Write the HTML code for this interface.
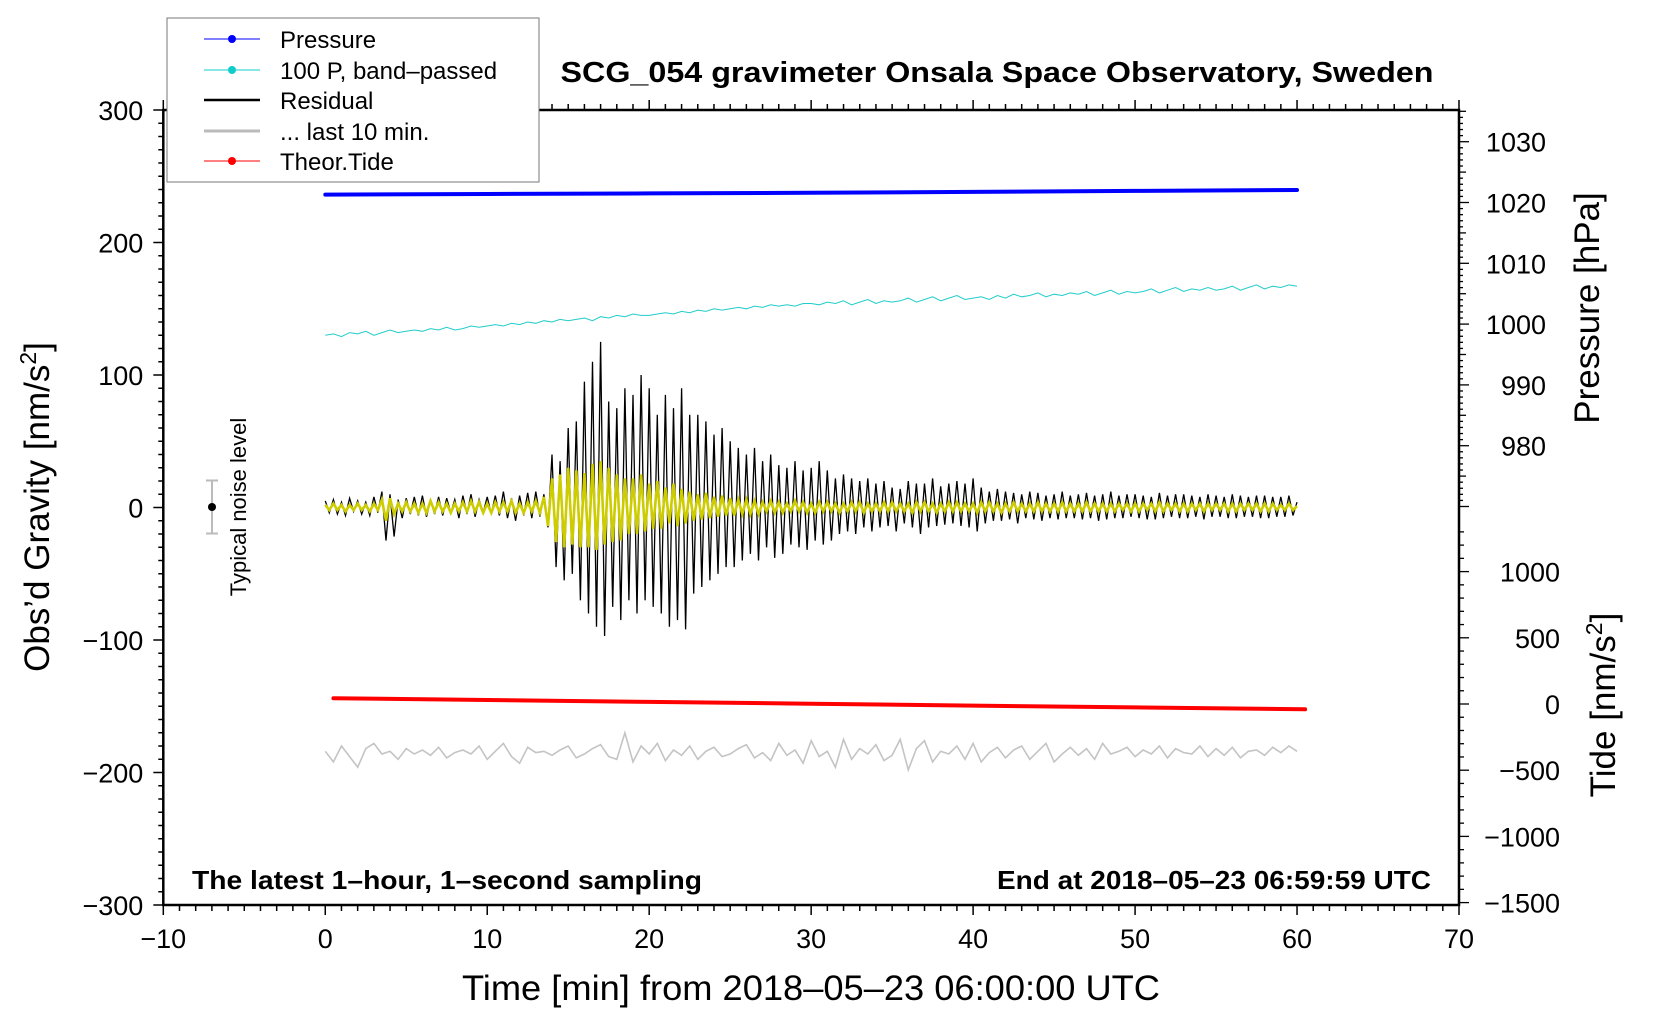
<!DOCTYPE html>
<html><head><meta charset="utf-8"><style>
html,body{margin:0;padding:0;background:#fff;}
svg{display:block;font-family:"Liberation Sans",sans-serif;}
</style></head><body>
<svg id="chart" width="1660" height="1020" viewBox="0 0 1660 1020" xmlns="http://www.w3.org/2000/svg">
<rect x="0" y="0" width="1660" height="1020" fill="#fff"/>
<g id="series"></g>
<g id="axes"></g>
<text x="997" y="82" text-anchor="middle" font-size="29" font-weight="bold" textLength="873" lengthAdjust="spacingAndGlyphs">SCG_054 gravimeter Onsala Space Observatory, Sweden</text>
<text x="192" y="889" font-size="26" font-weight="bold" textLength="510" lengthAdjust="spacingAndGlyphs">The latest 1–hour, 1–second sampling</text>
<text x="1431" y="889" text-anchor="end" font-size="26" font-weight="bold" textLength="434" lengthAdjust="spacingAndGlyphs">End at 2018–05–23 06:59:59 UTC</text>
<text x="811" y="1000" text-anchor="middle" font-size="35" textLength="698" lengthAdjust="spacingAndGlyphs">Time [min] from 2018–05–23 06:00:00 UTC</text>
<text transform="translate(49,507) rotate(-90)" text-anchor="middle" font-size="35">Obs’d Gravity [nm/s<tspan font-size="23" dy="-13">2</tspan><tspan dy="13">]</tspan></text>
<text transform="translate(1599,308) rotate(-90)" text-anchor="middle" font-size="35">Pressure [hPa]</text>
<text transform="translate(1615,705) rotate(-90)" text-anchor="middle" font-size="35">Tide [nm/s<tspan font-size="23" dy="-13">2</tspan><tspan dy="13">]</tspan></text>
<g>
<line x1="212" y1="480.5" x2="212" y2="533.5" stroke="#bbb" stroke-width="2"/>
<line x1="206" y1="480.5" x2="218" y2="480.5" stroke="#bbb" stroke-width="2"/>
<line x1="206" y1="533.5" x2="218" y2="533.5" stroke="#bbb" stroke-width="2"/>
<circle cx="212" cy="507" r="4" fill="#000"/>
<text transform="translate(246,507) rotate(-90)" text-anchor="middle" font-size="22">Typical noise level</text>
</g>
<g>
<rect x="167" y="18" width="372" height="164" fill="#fff" stroke="#777" stroke-width="1"/>
<line x1="204" y1="39" x2="260" y2="39" stroke="#00f" stroke-width="1"/><circle cx="232" cy="39" r="4" fill="#00f"/>
<text x="280" y="48" font-size="24">Pressure</text>
<line x1="204" y1="70" x2="260" y2="70" stroke="#1cc" stroke-width="1"/><circle cx="232" cy="70" r="4" fill="#1cc"/>
<text x="280" y="79" font-size="24">100 P, band–passed</text>
<line x1="204" y1="100" x2="260" y2="100" stroke="#000" stroke-width="2.5"/>
<text x="280" y="109" font-size="24">Residual</text>
<line x1="204" y1="131" x2="260" y2="131" stroke="#bbb" stroke-width="3"/>
<text x="280" y="140" font-size="24">... last 10 min.</text>
<line x1="204" y1="161" x2="260" y2="161" stroke="#f00" stroke-width="1"/><circle cx="232" cy="161" r="4" fill="#f00"/>
<text x="280" y="170" font-size="24">Theor.Tide</text>
</g>
</svg>
<script>
const xTicks = [-10,0,10,20,30,40,50,60,70];
const yTicks = [300,200,100,0,-100,-200,-300];
const pTicks = [1030,1020,1010,1000,990,980];
const tideTicks = [1000,500,0,-500,-1000,-1500];
const presT = [0,10,20,30,40,50,60];
const presV = [1021.3,1021.4,1021.5,1021.6,1021.75,1021.9,1022.05];
const tideT = [0.5,10,20,30,40,50,60.5];
const tideV = [44,30,16,2,-12,-26,-40];
const cyanV = [130,131,129,132,131,133,130,132,134,132,133,
134,133,135,134,136,134,135,137,136,137,
138,137,139,138,140,139,141,140,142,141,
142,143,141,144,143,145,144,146,145,145,
146,147,146,148,147,149,148,150,149,150,
151,150,152,151,153,152,153,152,154,154,
153,155,154,156,153,155,157,154,156,155,
156,158,155,157,159,156,158,160,157,158,
159,157,160,158,161,159,160,162,159,161,
160,162,161,163,160,162,164,161,163,162,
163,165,162,164,166,163,165,164,166,164,
165,167,164,166,168,165,167,166,168,167];
const residV = [5,-4,6,-5, 4,-6,7,-3, 5,-5,4,-6, 8,-4,12,-25, 10,-22,6,-8,
7,-5,8,-6, 9,-7,6,-5, 8,-6,7,-4, 6,-8,9,-5, 10,-7,6,-4,
8,-5,9,-6, 12,-8,7,-10, 9,-6,11,-8, 12,-7,10,-15, 40,-45,35,-55,
60,-50,65,-70, 95,-80,110,-90, 125,-97,80,-75, 75,-85,90,-70, 85,-80,100,-70,
90,-75,70,-80, 85,-90,75,-85, 90,-92,70,-65, 70,-60,65,-55, 55,-50,60,-45,
50,-45,45,-40, 40,-35,45,-40, 35,-30,40,-38, 32,-35,30,-28, 35,-30,28,-32,
30,-25,35,-28, 28,-25,22,-20, 25,-18,22,-20, 20,-15,22,-18, 18,-15,20,-14,
15,-18,14,-12, 20,-15,18,-20, 18,-15,22,-14, 16,-13,18,-12, 20,-14,18,-15,
22,-18,15,-12, 12,-10,14,-10, 12,-9,11,-12, 10,-8,12,-9, 11,-10,9,-8,
10,-9,12,-8, 9,-8,10,-9, 11,-8,9,-10, 10,-9,12,-8, 9,-8,10,-7,
10,-8,9,-9, 8,-9,11,-8, 9,-7,10,-8, 10,-8,9,-7, 8,-9,10,-7,
9,-7,8,-8, 10,-8,9,-7, 8,-7,9,-8, 9,-8,8,-7, 8,-7,9,-6, 4];
const yellowV = [2,-2,3,-2, 2,-3,2,-2, 3,-2,2,-3, 3,-2,6,-10, 7,-5,3,-3,
4,-3,3,-4, 3,-4,5,-3, 4,-3,3,-4, 3,-3,4,-3, 5,-3,4,-4,
3,-4,4,-3, 4,-3,5,-4, 3,-4,4,-3, 5,-4,8,-14, 22,-26,25,-30,
30,-28,28,-30, 26,-30,33,-32, 35,-28,30,-26, 25,-25,22,-20, 22,-20,25,-18,
18,-16,20,-16, 15,-12,18,-14, 14,-12,12,-10, 10,-9,11,-8, 8,-7,9,-6,
7,-6,6,-5, 6,-5,5,-5, 4,-3,5,-4, 4,-4,3,-3, 5,-3,4,-4,
3,-4,4,-3, 4,-3,3,-4, 3,-3,4,-3, 4,-4,3,-3, 3,-3,4,-3,
4,-3,3,-3, 3,-4,4,-3, 4,-3,3,-4, 3,-3,4,-3, 4,-3,3,-3,
3,-4,4,-3, 4,-3,3,-4, 3,-3,4,-3, 3,-3,3,-3, 4,-3,3,-3,
3,-3,4,-3, 3,-3,3,-3, 4,-3,3,-3, 3,-3,3,-3, 3,-2,3,-3,
3,-3,3,-2, 3,-3,4,-3, 3,-2,3,-3, 3,-3,3,-2, 3,-3,3,-2,
3,-2,3,-3, 3,-3,3,-2, 3,-2,3,-3, 3,-3,3,-2, 2,-2,3,-2, 1];
const grayV = [-184,-192,-180,-188,-196,-182,-178,-186,-184,-190,-182,-186,-183,-187,-181,-189,-185,-183,-186,-180,-190,-184,-178,-188,-193,-181,-185,-184,-187,-183,-180,-189,-186,-182,-179,-188,-190,-170,-192,-180,-186,-178,-191,-183,-187,-180,-190,-184,-181,-188,-186,-182,-179,-189,-185,-191,-178,-187,-183,-193,-176,-188,-184,-196,-175,-190,-182,-186,-179,-191,-187,-175,-198,-182,-176,-192,-184,-186,-180,-190,-178,-192,-185,-181,-189,-183,-180,-190,-184,-178,-192,-186,-181,-187,-182,-190,-178,-186,-184,-181,-188,-183,-186,-180,-189,-182,-185,-186,-180,-188,-182,-187,-181,-189,-184,-183,-187,-181,-185,-180,-184];

const X0=163.3, X1=1459, YT=110, YB=905;
const xs = t => X0 + (t+10)*(X1-X0)/80;
const ys = v => YB - (v+300)*(YB-YT)/600;
const ps = p => 141.7 + (1030-p)*6.08;
const ts = v => 704 - v*66.2/500;
const NS='http://www.w3.org/2000/svg';
const ser=document.getElementById('series'), ax=document.getElementById('axes');
function mk(tag,attrs,parent){const e=document.createElementNS(NS,tag);for(const k in attrs)e.setAttribute(k,attrs[k]);parent.appendChild(e);return e;}
function poly(tx,vy){return tx.map((t,i)=>xs(t).toFixed(1)+','+vy[i].toFixed(1)).join(' ');}

let pe=mk('polyline',{points:poly(presT,presV.map(ps)),fill:'none',stroke:'#0000ff','stroke-width':4,'stroke-linecap':'round'},ser);


const cT=cyanV.map((v,i)=>i*60/(cyanV.length-1));
let ce=mk('polyline',{points:poly(cT,cyanV.map(ys)),fill:'none',stroke:'#22cccc','stroke-width':1},ser);


const gT=grayV.map((v,i)=>i*60/(grayV.length-1));
let ge=mk('polyline',{points:poly(gT,grayV.map(ys)),fill:'none',stroke:'#c4c4c4','stroke-width':1.6},ser);


const rT=residV.map((v,i)=>i*60/(residV.length-1));
let re=mk('polyline',{points:poly(rT,residV.map(ys)),fill:'none',stroke:'#000','stroke-width':1.3},ser);


const yT=yellowV.map((v,i)=>i*60/(yellowV.length-1));
let ye=mk('polyline',{points:poly(yT,yellowV.map(ys)),fill:'none',stroke:'#cccc00','stroke-width':2.6},ser);


let te=mk('polyline',{points:poly(tideT,tideV.map(ts)),fill:'none',stroke:'#ff0000','stroke-width':4,'stroke-linecap':'round'},ser);



let fr=mk('rect',{x:X0,y:YT,width:X1-X0,height:YB-YT,fill:'none',stroke:'#000','stroke-width':2.5},ax);


for(let m=-10;m<=70;m++){const x=xs(m);const L=(m%10===0)?10:6;
 mk('line',{x1:x,y1:YB,x2:x,y2:YB+L,stroke:'#000','stroke-width':1.5},ax);
 mk('line',{x1:x,y1:YT,x2:x,y2:YT-L,stroke:'#000','stroke-width':1.5},ax);}
xTicks.forEach(t=>{const e=mk('text',{x:xs(t),y:YB+43,'text-anchor':'middle','font-size':27},ax);e.textContent=String(t).replace('-','\u2212');
 
 });
for(let v=-300;v<=300;v+=10){const y=ys(v);const L=(v%100===0)?10:5;mk('line',{x1:X0,y1:y,x2:X0-L,y2:y,stroke:'#000','stroke-width':1.5},ax);}
yTicks.forEach(v=>{const e=mk('text',{x:X0-20,y:ys(v)+10,'text-anchor':'end','font-size':27},ax);e.textContent=String(v).replace('-','\u2212');
 
 });
for(let p=1035;p>=970;p--){const y=ps(p);if(y<YT)continue;const L=(p%10===0)?10:(p%5===0?7:4);mk('line',{x1:X1,y1:y,x2:X1+L,y2:y,stroke:'#000','stroke-width':1.3},ax);}
pTicks.forEach(p=>{const e=mk('text',{x:1546,y:ps(p)+10,'text-anchor':'end','font-size':27},ax);e.textContent=p;
 
 });
for(let v=-1500;v<=1300;v+=100){const y=ts(v);if(y<ps(970))continue;const L=(v%500===0)?10:5;mk('line',{x1:X1,y1:y,x2:X1+L,y2:y,stroke:'#000','stroke-width':1.3},ax);}
tideTicks.forEach(v=>{const e=mk('text',{x:1560,y:ts(v)+10,'text-anchor':'end','font-size':27},ax);e.textContent=String(v).replace('-','\u2212');
 
 });
</script>
</body></html>
